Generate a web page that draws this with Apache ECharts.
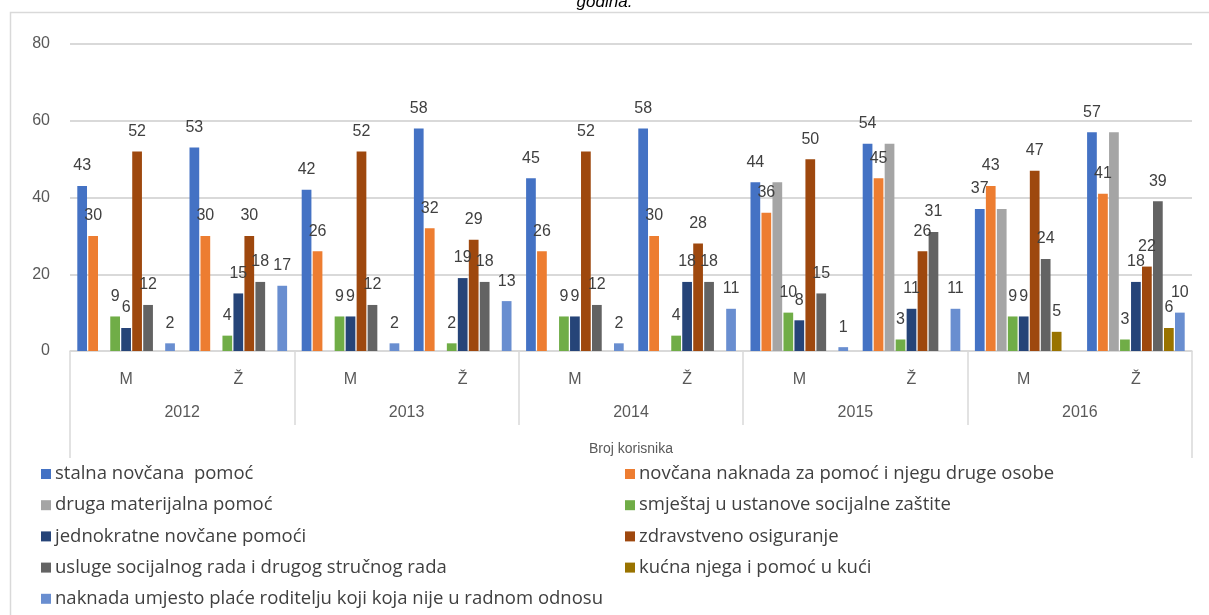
<!DOCTYPE html>
<html>
<head>
<meta charset="utf-8">
<script src="https://cdn.jsdelivr.net/npm/echarts@6/dist/echarts.min.js"></script>
<style>
html,body{margin:0;padding:0;background:#fff;}
#c{width:1209px;height:615px;}
</style>
</head>
<body>
<div id="c"></div>
<script>
const categories = ['M','Ž','M','Ž','M','Ž','M','Ž','M','Ž'];
const years = ['2012','2013','2014','2015','2016'];
const groupLabel = ['Broj korisnika'];
const yTicks = {min:0, max:80, interval:20};

const seriesNames = [
  'stalna novčana  pomoć',
  'novčana naknada za pomoć i njegu druge osobe',
  'druga materijalna pomoć',
  'smještaj u ustanove socijalne zaštite',
  'jednokratne novčane pomoći',
  'zdravstveno osiguranje',
  'usluge socijalnog rada i drugog stručnog rada',
  'kućna njega i pomoć u kući',
  'naknada umjesto plaće roditelju koji koja nije u radnom odnosu'
];
const stalna      = [43,53,42,58,45,58,44,54,37,57];
const novcana     = [30,30,26,32,26,30,36,45,43,41];
const druga       = [0,0,0,0,0,0,44,54,37,57];
const smjestaj    = [9,4,9,2,9,4,10,3,9,3];
const jednokratne = [6,15,9,19,9,18,8,11,9,18];
const zdravstveno = [52,30,52,29,52,28,50,26,47,22];
const usluge      = [12,18,12,18,12,18,15,31,24,39];
const kucna       = [0,0,0,0,0,0,0,0,5,6];
const naknada     = [2,17,2,13,2,11,1,11,0,10];

const seriesData = [stalna,novcana,druga,smjestaj,jednokratne,zdravstveno,usluge,kucna,naknada];
const colors = ['#4472C4','#ED7D31','#A5A5A5','#70AD47','#264478','#9E480E','#636363','#997300','#698ED0'];
const showLabel = [true,true,false,true,true,true,true,true,true];

const FONT = 'Liberation Sans';
const LFONT = 'Open Sans';
const chart = echarts.init(document.getElementById('c'), null, {renderer:'canvas'});

const series = seriesData.map((d,i)=>({
  name: seriesNames[i],
  type: 'bar',
  xAxisIndex: 0,
  data: d,
  itemStyle: {color: colors[i]},
  barGap: '13%',
  barCategoryGap: '13%',
  label: {
    show: showLabel[i],
    position: 'top',
    distance: 12,
    fontFamily: FONT,
    fontSize: 16,
    color: '#404040',
    formatter: p => (p.value > 0 ? String(p.value) : '')
  }
}));

const legendText = {fontFamily: LFONT, fontSize: 18.5, lineHeight: 20, color: '#404040', padding: [0,0,0,-1]};

const option = {
  animation: false,
  color: colors,
  title: {
    text: 'godina.',
    left: 'center',
    top: -11,
    textStyle: {fontFamily: FONT, fontStyle: 'italic', fontWeight: 'normal', fontSize: 17, color: '#000'}
  },
  graphic: [{
    type: 'rect',
    shape: {x: 10.5, y: 12.5, width: 1220, height: 700},
    style: {fill: 'none', stroke: '#D9D9D9', lineWidth: 1.5},
    silent: true
  }],
  grid: {left: 70, right: 17, top: 44, bottom: 264, containLabel: false},
  legend: [
    {
      data: [seriesNames[0],seriesNames[2],seriesNames[4],seriesNames[6],seriesNames[8]],
      orient: 'vertical', left: 36, top: 462, itemGap: 11.2, padding: [2,5,2,5],
      itemWidth: 10, itemHeight: 10, icon: 'rect',
      textStyle: legendText
    },
    {
      data: [seriesNames[1],seriesNames[3],seriesNames[5],seriesNames[7]],
      orient: 'vertical', left: 620, top: 462, itemGap: 11.2, padding: [2,5,2,5],
      itemWidth: 10, itemHeight: 10, icon: 'rect',
      textStyle: legendText
    }
  ],
  xAxis: [
    {
      type: 'category', data: categories, position: 'bottom',
      axisLine: {show: true, lineStyle: {color: '#D9D9D9', width: 1.5}},
      axisTick: {show: false},
      axisLabel: {margin: 21, fontFamily: FONT, fontSize: 16, color: '#595959'}
    },
    {
      type: 'category', data: years, position: 'bottom', offset: 74,
      axisLine: {show: false},
      axisTick: {show: true, inside: true, length: 74, lineStyle: {color: '#D9D9D9', width: 1.5}},
      axisLabel: {inside: true, margin: 4, fontFamily: FONT, fontSize: 16, color: '#595959'}
    },
    {
      type: 'category', data: groupLabel, position: 'bottom', offset: 107,
      axisLine: {show: false},
      axisTick: {show: true, inside: true, length: 107, lineStyle: {color: '#D9D9D9', width: 1.5}},
      axisLabel: {inside: true, margin: 2, fontFamily: FONT, fontSize: 14, color: '#595959'}
    }
  ],
  yAxis: {
    type: 'value', min: yTicks.min, max: yTicks.max, interval: yTicks.interval,
    axisLine: {show: false}, axisTick: {show: false},
    axisLabel: {margin: 20, fontFamily: FONT, fontSize: 16, color: '#595959'},
    splitLine: {lineStyle: {color: '#D9D9D9', width: 2}}
  },
  series: series
};
chart.setOption(option);
</script>
</body>
</html>
